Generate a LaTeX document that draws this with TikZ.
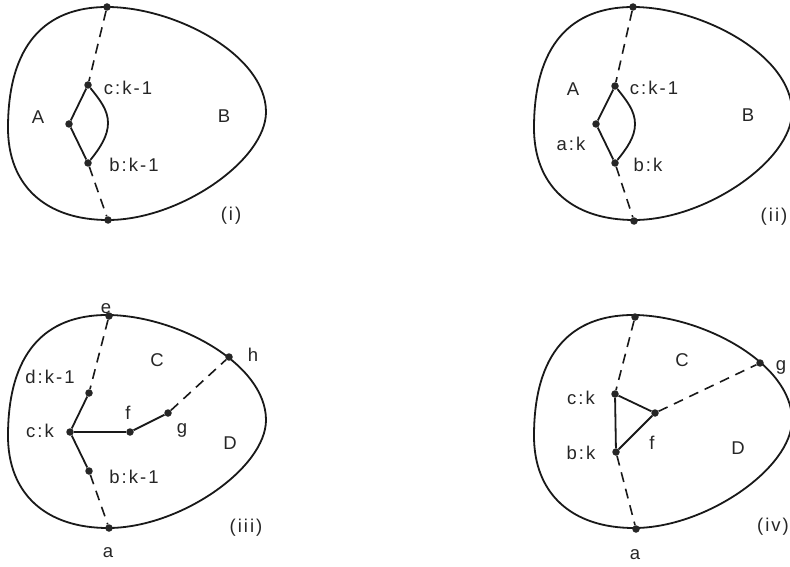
\documentclass[tikz,border=0pt]{standalone}
\usepackage{fontspec}
\setmainfont{Liberation Sans}[LetterSpace=11]
\begin{document}
\begin{tikzpicture}[x=1pt,y=-1pt,
  egg/.style={line width=1.8pt, black!90},
  dot/.style={circle, fill=black!85, inner sep=0pt, minimum size=7.5pt},
  edge/.style={line width=1.8pt, black!90},
  dline/.style={line width=1.6pt, black!90, dash pattern=on 10pt off 7pt},
  lbl/.style={inner sep=0pt, font=\fontsize{18.5}{22}\selectfont, text=black!85}]
\useasboundingbox (0,0) rectangle (790,567);
\fill[white] (0,0) rectangle (790,567);
\foreach \sx/\sy in {0/0,526/0,0/308,526/308}
  \draw[egg, shift={(\sx,\sy)}] (107,7) .. controls (175,7) and (266,55) .. (266,112)
     .. controls (266,160) and (180,220) .. (108,220)
     .. controls (45,220) and (8,185) .. (8,128)
     .. controls (8,45) and (45,7) .. (107,7) -- cycle;
% panel (i)
\begin{scope}
  \node[dot] (i-t) at (107,7) {};
  \node[dot] (i-c) at (88,85) {};
  \node[dot] (i-a) at (69,124) {};
  \node[dot] (i-b) at (88,163) {};
  \node[dot] (i-u) at (108,220) {};
  \draw[dline] (i-t) -- (i-c);
  \draw[dline] (i-b) -- (i-u);
  \draw[edge] (i-c) -- (i-a) -- (i-b);
  \draw[edge] (i-c) .. controls (100,100) and (108,110) .. (108,123)
                    .. controls (108,136) and (100,148) .. (i-b);
  \node[lbl] (i-lc) at (128,88) {c:k-1};
  \node[lbl] (i-lA) at (38,117) {A};
  \node[lbl] (i-lB) at (224,116) {B};
  \node[lbl] (i-lb) at (134,165) {b:k-1};
  \node[lbl] (i-ln) at (231,216) {(i)};
\end{scope}
% panel (ii)
\begin{scope}[shift={(526,0)}]
  \node[dot] (ii-t) at (107,7) {};
  \node[dot] (ii-c) at (89,86) {};
  \node[dot] (ii-a) at (70,124) {};
  \node[dot] (ii-b) at (89,163) {};
  \node[dot] (ii-u) at (108,221) {};
  \draw[dline] (ii-t) -- (ii-c);
  \draw[dline] (ii-b) -- (ii-u);
  \draw[edge] (ii-c) -- (ii-a) -- (ii-b);
  \draw[edge] (ii-c) .. controls (101,101) and (109,111) .. (109,124)
                     .. controls (109,137) and (101,148) .. (ii-b);
  \node[lbl] (ii-lA) at (47,89) {A};
  \node[lbl] (ii-lc) at (128,88) {c:k-1};
  \node[lbl] (ii-la) at (45,144) {a:k};
  \node[lbl] (ii-lb) at (122,165) {b:k};
  \node[lbl] (ii-lB) at (222,115) {B};
  \node[lbl] (ii-ln) at (248,217) {(ii)};
\end{scope}
% panel (iii)
\begin{scope}[shift={(0,308)}]
  \node[dot] (iii-e) at (109,8) {};
  \node[dot] (iii-d) at (89,85) {};
  \node[dot] (iii-c) at (70,124) {};
  \node[dot] (iii-f) at (130,124) {};
  \node[dot] (iii-g) at (168,105) {};
  \node[dot] (iii-h) at (229,49) {};
  \node[dot] (iii-b) at (89,163) {};
  \node[dot] (iii-a) at (109,220) {};
  \draw[dline] (iii-e) -- (iii-d);
  \draw[edge] (iii-d) -- (iii-c);
  \draw[edge] (iii-c) -- (iii-f);
  \draw[edge] (iii-f) -- (iii-g);
  \draw[dline] (iii-g) -- (iii-h);
  \draw[edge] (iii-c) -- (iii-b);
  \draw[dline] (iii-b) -- (iii-a);
  \node[lbl] (iii-le) at (106,1) {e};
  \node[lbl] (iii-lC) at (157,52) {C};
  \node[lbl] (iii-lh) at (253,47) {h};
  \node[lbl] (iii-ld) at (50,69) {d:k-1};
  \node[lbl] (iii-lf) at (128,105) {f};
  \node[lbl] (iii-lc) at (40,123) {c:k};
  \node[lbl] (iii-lg) at (182,122) {g};
  \node[lbl] (iii-lD) at (230,135) {D};
  \node[lbl] (iii-lb) at (134,169) {b:k-1};
  \node[lbl] (iii-ln) at (246,220) {(iii)};
  \node[lbl] (iii-la) at (108,245) {a};
\end{scope}
% panel (iv)
\begin{scope}[shift={(526,308)}]
  \node[dot] (iv-t) at (109,9) {};
  \node[dot] (iv-c) at (89,86) {};
  \node[dot] (iv-f) at (129,105) {};
  \node[dot] (iv-g) at (234,55) {};
  \node[dot] (iv-b) at (90,144) {};
  \node[dot] (iv-u) at (110,221) {};
  \draw[dline] (iv-t) -- (iv-c);
  \draw[edge] (iv-c) -- (iv-b);
  \draw[edge] (iv-c) -- (iv-f);
  \draw[edge] (iv-f) -- (iv-b);
  \draw[dline] (iv-f) -- (iv-g);
  \draw[dline] (iv-b) -- (iv-u);
  \node[lbl] (iv-lC) at (156,52) {C};
  \node[lbl] (iv-lg) at (255,59) {g};
  \node[lbl] (iv-lc) at (55,90) {c:k};
  \node[lbl] (iv-lf) at (126,135) {f};
  \node[lbl] (iv-lb) at (55,145) {b:k};
  \node[lbl] (iv-lD) at (212,140) {D};
  \node[lbl] (iv-ln) at (247,219) {(iv)};
  \node[lbl] (iv-la) at (109,247) {a};
\end{scope}
\end{tikzpicture}
\end{document}
